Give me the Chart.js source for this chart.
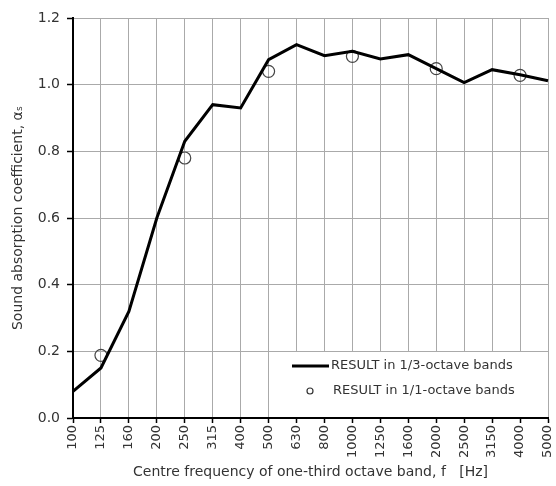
<!DOCTYPE html>
<html>
<head>
<meta charset="utf-8">
<script src="https://cdn.jsdelivr.net/npm/chart.js@4"></script>
<style>
  html, body { margin: 0; padding: 0; background: #fff; }
  #wrap { width: 556px; height: 486px; }
</style>
</head>
<body>
<div id="wrap"><canvas id="absorptionChart" width="556" height="486"></canvas></div>
<script>
const bands = ['100', '125', '160', '200', '250', '315', '400', '500', '630', '800', '1000', '1250', '1600', '2000', '2500', '3150', '4000', '5000'];
const thirdOctave = [0.08, 0.15, 0.32, 0.60, 0.83, 0.94, 0.93, 1.075, 1.12, 1.087, 1.10, 1.077, 1.09, 1.048, 1.006, 1.045, 1.03, 1.012];
const fullOctave = [null, 0.188, null, null, 0.78, null, null, 1.04, null, null, 1.085, null, null, 1.048, null, null, 1.028, null];
const legendLabels = ['RESULT in 1/3-octave bands', 'RESULT in 1/1-octave bands'];

const font = 'DejaVu Sans';

// white legend box inside the plot, bottom right
const insideLegend = {
  id: 'insideLegend',
  beforeDatasetsDraw(chart) {
    const { ctx, chartArea } = chart;
    ctx.save();
    ctx.fillStyle = '#fff';
    ctx.fillRect(chartArea.right - 264, chartArea.bottom - 66, 263, 65);
    ctx.restore();
  },
  afterDraw(chart) {
    const { ctx, chartArea } = chart;
    const x0 = chartArea.right - 256;
    const y1 = chartArea.bottom - 52;
    const y2 = chartArea.bottom - 27;
    ctx.save();
    ctx.strokeStyle = '#000';
    ctx.lineWidth = 3;
    ctx.beginPath();
    ctx.moveTo(x0, y1);
    ctx.lineTo(x0 + 37, y1);
    ctx.stroke();
    ctx.lineWidth = 1.2;
    ctx.strokeStyle = '#333';
    ctx.beginPath();
    ctx.arc(x0 + 18, y2, 3, 0, Math.PI * 2);
    ctx.stroke();
    ctx.fillStyle = '#333';
    ctx.font = '13px "' + font + '"';
    ctx.textBaseline = 'middle';
    ctx.fillText(legendLabels[0], x0 + 39, y1);
    ctx.fillText(legendLabels[1], x0 + 41, y2);
    ctx.restore();
  }
};

new Chart(document.getElementById('absorptionChart'), {
  type: 'line',
  data: {
    labels: bands,
    datasets: [
      { label: legendLabels[0], data: thirdOctave, borderColor: '#000', borderWidth: 3, pointRadius: 0, tension: 0, fill: false },
      { label: legendLabels[1], data: fullOctave, showLine: false, borderColor: '#444', borderWidth: 1.2, backgroundColor: 'rgba(0,0,0,0)', pointRadius: 6, pointBorderWidth: 1.2 },
    ],
  },
  plugins: [insideLegend],
  options: {
    responsive: false,
    animation: false,
    layout: { padding: { top: 18, right: 8, bottom: 0, left: 0 } },
    plugins: { legend: { display: false }, tooltip: { enabled: false } },
    scales: {
      x: {
        offset: false,
        afterFit: (scale) => { scale.height = 68; scale.paddingRight = 0; scale.paddingLeft = 0; },
        grid: { color: '#aaa', lineWidth: 1, tickColor: '#000', tickLength: 5, tickWidth: 1.5 },
        border: { color: '#000', width: 2 },
        ticks: { minRotation: 90, maxRotation: 90, autoSkip: false, color: '#333', font: { family: font, size: 13 }, padding: 2 },
        title: { display: true, text: 'Centre frequency of one-third octave band, f   [Hz]', color: '#333', font: { family: font, size: 14 }, padding: { top: 4, bottom: 5 } },
      },
      y: {
        min: 0,
        max: 1.2,
        afterFit: (scale) => { scale.width = 73; },
        grid: { color: '#aaa', lineWidth: 1, tickColor: '#000', tickLength: 6, tickWidth: 1.5 },
        border: { color: '#000', width: 2 },
        ticks: { stepSize: 0.2, color: '#333', font: { family: font, size: 14 }, padding: 7, callback: (v) => v.toFixed(1) },
        title: { display: true, text: 'Sound absorption coefficient, αₛ', color: '#333', font: { family: font, size: 14 }, padding: { top: 10, bottom: 4 } },
      },
    },
  },
});
</script>
</body>
</html>
